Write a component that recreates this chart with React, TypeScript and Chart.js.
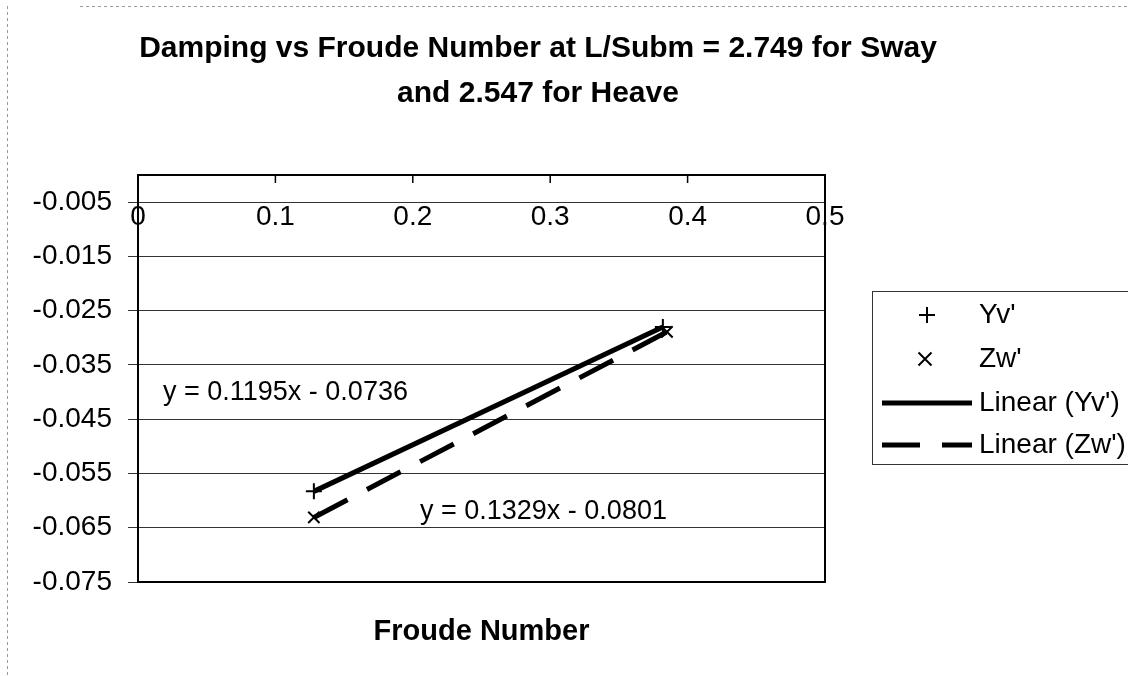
import React, { useEffect, useRef } from "react";
import { Chart, registerables } from "chart.js";

Chart.register(...registerables);

const titleLines = ["Damping vs Froude Number at L/Subm = 2.749 for Sway", "and 2.547 for Heave"];
const xAxisTitle = "Froude Number";
const xTickValues = [0, 0.1, 0.2, 0.3, 0.4, 0.5];
const yTickValues = [-0.075, -0.065, -0.055, -0.045, -0.035, -0.025, -0.015, -0.005];
const yvX = [0.128, 0.382];
const yvY = [-0.0583, -0.028];
const zwX = [0.128, 0.385];
const zwY = [-0.0631, -0.0289];
const seriesNames = ["Yv'", "Zw'", "Linear (Yv')", "Linear (Zw')"];
const equationTexts = ["y = 0.1195x - 0.0736", "y = 0.1329x - 0.0801"];

const FONT = '"Liberation Sans", Arial, sans-serif';
const DASH = [38, 22];

const toPoints = (xs: number[], ys: number[]) => xs.map((x, i) => ({ x, y: ys[i] }));

function drawPlus(ctx: CanvasRenderingContext2D, x: number, y: number, r: number) {
  ctx.beginPath();
  ctx.moveTo(x - r, y);
  ctx.lineTo(x + r, y);
  ctx.moveTo(x, y - r);
  ctx.lineTo(x, y + r);
  ctx.stroke();
}
function drawX(ctx: CanvasRenderingContext2D, x: number, y: number, r: number) {
  ctx.beginPath();
  ctx.moveTo(x - r, y - r);
  ctx.lineTo(x + r, y + r);
  ctx.moveTo(x - r, y + r);
  ctx.lineTo(x + r, y - r);
  ctx.stroke();
}

const decorPlugin = {
  id: "decor",
  afterDraw(chart: any) {
    const ctx: CanvasRenderingContext2D = chart.ctx;
    const { left, right, top, bottom } = chart.chartArea;
    const xs = chart.scales.x;
    ctx.save();

    // outer faint border
    ctx.strokeStyle = "#9a9a9a";
    ctx.lineWidth = 1;
    ctx.setLineDash([3, 3]);
    ctx.beginPath();
    ctx.moveTo(7.5, 6);
    ctx.lineTo(7.5, 676);
    ctx.moveTo(80, 6.5);
    ctx.lineTo(1128, 6.5);
    ctx.stroke();
    ctx.setLineDash([]);

    // plot border
    ctx.strokeStyle = "#000";
    ctx.lineWidth = 2;
    ctx.strokeRect(left, top, right - left, bottom - top);

    // x ticks (hanging from top) and labels
    ctx.lineWidth = 1.5;
    ctx.fillStyle = "#000";
    ctx.font = `28px ${FONT}`;
    ctx.textAlign = "center";
    ctx.textBaseline = "middle";
    xTickValues.forEach((v) => {
      const px = xs.getPixelForValue(v);
      ctx.beginPath();
      ctx.moveTo(px, top);
      ctx.lineTo(px, top + 8);
      ctx.stroke();
      ctx.fillText(String(v), px, 217);
    });

    // title
    ctx.font = `bold 30px ${FONT}`;
    ctx.textBaseline = "alphabetic";
    ctx.fillText(titleLines[0], 538, 57);
    ctx.fillText(titleLines[1], 538, 102);

    // axis title
    ctx.font = `bold 29px ${FONT}`;
    ctx.fillText(xAxisTitle, (left + right) / 2, 640);

    // equations
    ctx.font = `27px ${FONT}`;
    ctx.textAlign = "left";
    ctx.fillText(equationTexts[0], 163, 400);
    ctx.fillText(equationTexts[1], 420, 519);

    // legend
    ctx.strokeStyle = "#333";
    ctx.lineWidth = 1;
    ctx.strokeRect(872.5, 291.5, 300, 173);
    const rows = [315, 359, 403, 445];
    ctx.textBaseline = "middle";
    ctx.font = `28px ${FONT}`;
    ctx.strokeStyle = "#000";
    ctx.lineWidth = 2;
    drawPlus(ctx, 927, rows[0], 8);
    drawX(ctx, 925, rows[1], 6.5);
    ctx.lineWidth = 5;
    ctx.beginPath();
    ctx.moveTo(882, rows[2]);
    ctx.lineTo(972, rows[2]);
    ctx.stroke();
    ctx.setLineDash(DASH);
    ctx.beginPath();
    ctx.moveTo(882, rows[3]);
    ctx.lineTo(972, rows[3]);
    ctx.stroke();
    ctx.setLineDash([]);
    seriesNames.forEach((n, i) => ctx.fillText(n, 979, rows[i]));

    ctx.restore();
  },
};

export default function App() {
  const ref = useRef<HTMLCanvasElement | null>(null);
  useEffect(() => {
    if (!ref.current) return;
    const chart = new Chart(ref.current, {
      type: "scatter",
      data: {
        datasets: [
          {
            label: seriesNames[0],
            data: toPoints(yvX, yvY),
            pointStyle: "cross",
            pointRadius: 8,
            pointBorderWidth: 2,
            borderColor: "#000",
            backgroundColor: "#000",
            showLine: false,
          },
          {
            label: seriesNames[1],
            data: toPoints(zwX, zwY),
            pointStyle: "crossRot",
            pointRadius: 8,
            pointBorderWidth: 2,
            borderColor: "#000",
            backgroundColor: "#000",
            showLine: false,
          },
          {
            label: seriesNames[2],
            data: toPoints(yvX, yvY),
            showLine: true,
            pointRadius: 0,
            borderWidth: 5,
            borderColor: "#000",
            borderCapStyle: "butt",
          },
          {
            label: seriesNames[3],
            data: toPoints(zwX, zwY),
            showLine: true,
            pointRadius: 0,
            borderWidth: 5,
            borderColor: "#000",
            borderDash: DASH,
            borderCapStyle: "butt",
          },
        ],
      } as any,
      options: {
        animation: false,
        responsive: false,
        devicePixelRatio: 1,
        layout: { padding: { left: 0, top: 175, right: 303, bottom: 94 } },
        plugins: { legend: { display: false }, title: { display: false }, tooltip: { enabled: false } },
        scales: {
          x: { type: "linear", min: 0, max: 0.5, display: false },
          y: {
            type: "linear",
            min: -0.075,
            max: 0,
            afterBuildTicks: (s: any) => {
              s.ticks = yTickValues.map((v) => ({ value: v }));
            },
            afterFit: (s: any) => {
              s.width = 138;
            },
            ticks: {
              color: "#000",
              padding: 16,
              font: { family: FONT, size: 28 },
              callback: (v: any) => Number(v).toFixed(3),
            },
            grid: { color: "#333", lineWidth: 1, tickLength: 10, drawTicks: true },
            border: { display: true, color: "#000", width: 2 },
          },
        },
      } as any,
      plugins: [decorPlugin],
    });
    return () => chart.destroy();
  }, []);
  return (
    <div style={{ position: "absolute", left: 0, top: 0, width: 1128, height: 676, background: "#fff" }}>
      <canvas ref={ref} width={1128} height={676} style={{ width: 1128, height: 676 }} />
    </div>
  );
}
